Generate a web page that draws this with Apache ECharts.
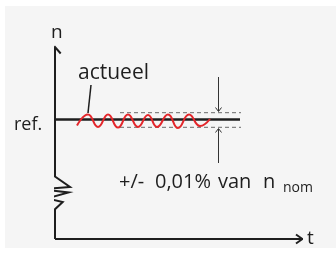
<!DOCTYPE html>
<html>
<head>
<meta charset="utf-8">
<script src="https://cdn.jsdelivr.net/npm/echarts@6/dist/echarts.min.js"></script>
<style>
html,body{margin:0;padding:0;background:#ffffff;}
#chart{width:336px;height:253px;}
</style>
</head>
<body>
<div id="chart"></div>
<script>
// Schematic values (t, n) in the diagram's own units, origin where the axes meet
const yAxisPath = [[0,0],[0,29.7],[7.7,37],[-8,40.5],[13.5,46.5],[-14.5,49.7],[15,52],[0,62.5],[0,192]];
const yArrow = [[-5.7,185.5],[0,192],[5.7,185.5]];
const xAxisPath = [[0,0],[247.5,0]];
const xArrow = [[241,4.5],[247.5,0],[241,-4.5]];
const refLine = [[0,119.5],[185,119.5]];
const tolUpper = [[65,126.3],[186,126.3]];
const tolLower = [[65,111.7],[186,111.7]];
const arrowDownShaft = [[163.5,162],[163.5,128]];
const arrowDownHead = [[160.5,131.5],[163.5,127.5],[166.5,131.5]];
const arrowUpShaft = [[163.5,76],[163.5,110]];
const arrowUpHead = [[160.5,106.5],[163.5,110.5],[166.5,106.5]];
const leader = [[36,154],[33,126]];
const actual = [[22,113.5],[33,124.5],[43,112],[53,124.5],[63,111.5],[73,124.5],[83,112],[93,124],[102,112],[113,124.5],[123,111],[134,124.5],[145,113],[155,120]];

const labelRef = 'ref.';
const labelActual = 'actueel';
const labelTolWords = ['+/-', '0,01%', 'van', 'n'];
const labelSub = 'nom';
const labelY = 'n';
const labelX = 't';

const FONT = 'Open Sans';
const INK = '#1e1e1e';

function path(data, color, width, extra) {
  return Object.assign({
    type: 'line', data: data, symbol: 'none', silent: true, clip: false,
    lineStyle: { color: color, width: width, cap: 'butt', join: 'miter' },
    animation: false
  }, extra || {});
}
function txt(text, x, y, size) {
  return { type: 'text', x: x, y: y, silent: true,
    style: { text: text, font: size + 'px "' + FONT + '"', fill: INK, align: 'left', verticalAlign: 'middle' } };
}

const tolX = [119, 155, 218, 263];
const graphics = [
  { type: 'rect', z: -10, silent: true, shape: { x: 5, y: 6, width: 331, height: 242 }, style: { fill: '#f5f5f5' } },
  txt(labelY, 51, 33, 19),
  txt(labelX, 307, 239, 19),
  txt(labelActual, 78, 73.5, 21),
  txt(labelRef, 14, 125, 18),
  txt(labelSub, 283, 188, 14)
];
labelTolWords.forEach(function (w, i) { graphics.push(txt(w, tolX[i], 182, 20)); });

const chart = echarts.init(document.getElementById('chart'), null, { renderer: 'canvas' });
chart.setOption({
  backgroundColor: '#ffffff',
  animation: false,
  grid: { left: 55, right: 34, top: 47, bottom: 14 },
  xAxis: { type: 'value', min: 0, max: 247, show: false },
  yAxis: { type: 'value', min: 0, max: 192, show: false },
  graphic: graphics,
  series: [
    path(yAxisPath, INK, 2),
    path(yArrow, INK, 2),
    path(xAxisPath, INK, 2),
    path(xArrow, INK, 2),
    path(tolUpper, '#6a6a6a', 1, { lineStyle: { color: '#6a6a6a', width: 1, type: [4, 3] } }),
    path(tolLower, '#6a6a6a', 1, { lineStyle: { color: '#6a6a6a', width: 1, type: [4, 3] } }),
    path(refLine, INK, 2.5),
    path(arrowDownShaft, '#333333', 1),
    path(arrowDownHead, '#333333', 1),
    path(arrowUpShaft, '#333333', 1),
    path(arrowUpHead, '#333333', 1),
    path(leader, INK, 1.5),
    path(actual, '#e3262b', 2, { smooth: 0.5 })
  ]
});
</script>
</body>
</html>
